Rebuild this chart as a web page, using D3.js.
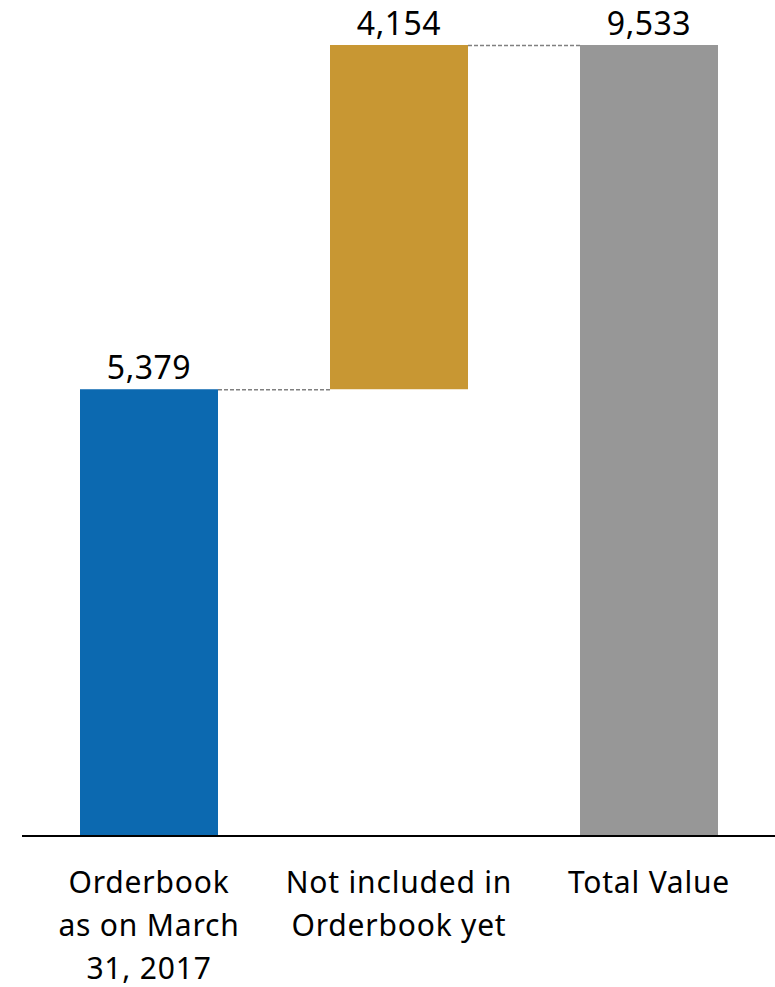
<!DOCTYPE html>
<meta charset="utf-8">
<body style="margin:0;background-color:white;">
<svg width="775" height="987"></svg>
<script src="https://d3js.org/d3.v7.min.js"></script>
<script>

var categories = [["Orderbook", "as on March", "31, 2017"], ["Not included in", "Orderbook yet"], ["Total Value"]];
var starts = [0, 5379, 0];       // where each bar begins
var values = [5379, 4154, 9533]; // bar height / label
var colors = ["#0c69b0", "#c89733", "#979797"];

var svg = d3.select("svg");
var baseY = 835, topY = 45;

var x = d3.scaleBand()
          .domain(d3.range(categories.length))
          .range([30, 768])
          .paddingInner(0.448)
          .paddingOuter(0.2);

var y = d3.scaleLinear()
          .domain([0, 9533])
          .range([baseY, topY]);

var bars = svg.append('g');
bars.selectAll('rect')
    .data(values)
    .enter().append('rect')
    .attr('x', function(d, i) { return x(i); })
    .attr('width', x.bandwidth())
    .attr('y', function(d, i) { return y(starts[i] + d); })
    .attr('height', function(d, i) { return y(starts[i]) - y(starts[i] + d); })
    .attr('fill', function(d, i) { return colors[i]; });

// dashed connectors between bar tops
for (var i = 0; i < values.length - 1; i++) {
  var lvl = starts[i] + values[i];
  svg.append('line')
     .attr('x1', x(i) + x.bandwidth())
     .attr('x2', x(i + 1))
     .attr('y1', y(lvl) + 0.5)
     .attr('y2', y(lvl) + 0.5)
     .attr('stroke', '#808080')
     .attr('stroke-width', 1.3)
     .attr('stroke-dasharray', '4,2');
}

// value labels
svg.append('g').selectAll('text')
   .data(values)
   .enter().append('text')
   .attr('x', function(d, i) { return x(i) + x.bandwidth() / 2; })
   .attr('y', function(d, i) { return y(starts[i] + d) - 10; })
   .attr('text-anchor', 'middle')
   .style('font-family', 'Noto Sans, sans-serif')
   .style('font-size', '32px')
   .style('letter-spacing', '0.5px')
   .text(function(d) { return d3.format(',')(d); });

// baseline
svg.append('line')
   .attr('x1', 22).attr('x2', 775)
   .attr('y1', baseY + 1).attr('y2', baseY + 1)
   .attr('stroke', 'black')
   .attr('stroke-width', 2);

// category labels
var cats = svg.append('g');
categories.forEach(function(lines, i) {
  var t = cats.append('text')
              .attr('text-anchor', 'middle')
              .style('font-family', 'Noto Sans, sans-serif')
              .style('font-size', '30px')
              .style('letter-spacing', '0.8px');
  lines.forEach(function(l, j) {
    t.append('tspan')
     .attr('x', x(i) + x.bandwidth() / 2)
     .attr('y', 893 + j * 43)
     .text(l);
  });
});

</script>
</body>
